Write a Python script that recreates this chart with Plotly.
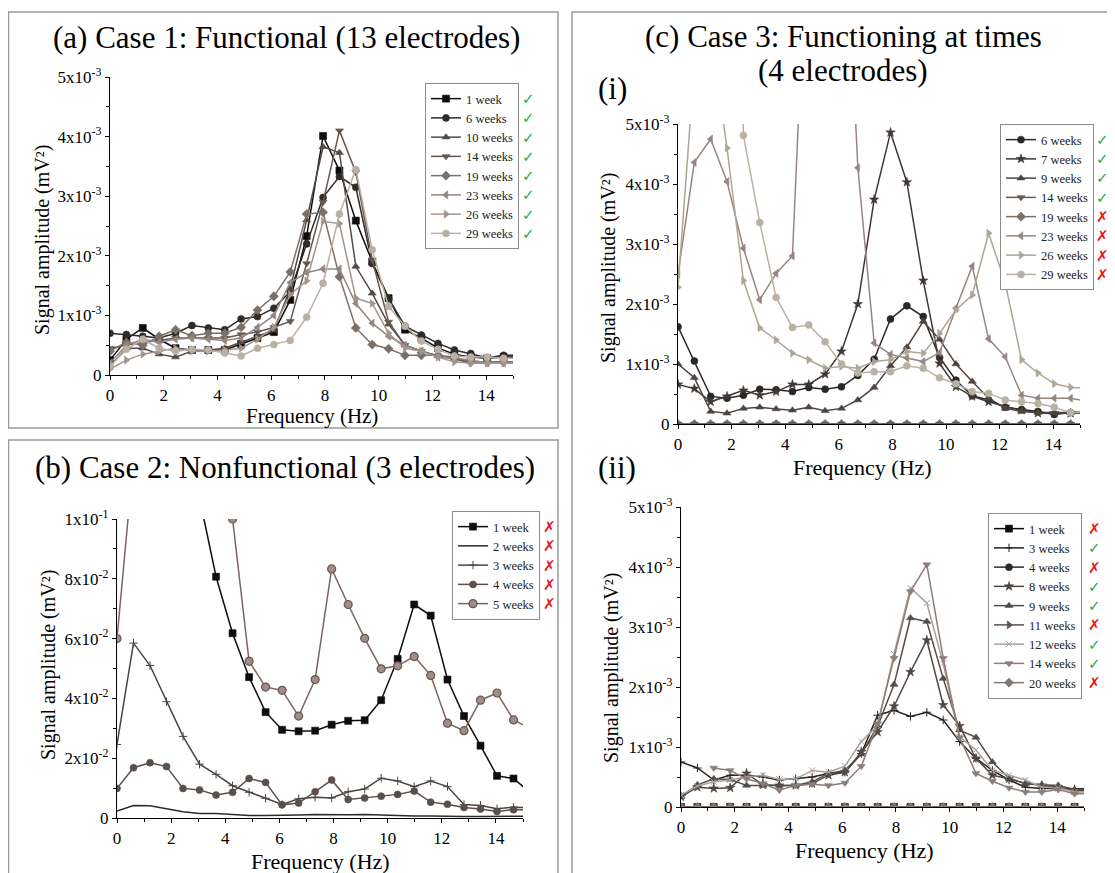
import plotly.graph_objects as go

W, H = 1115, 873
FONT = "Liberation Serif"
OFF = 8  # page body margin that offsets the figure in the browser

# Frequency bins (Hz)
freq = [0.00, 0.61, 1.22, 1.83, 2.44, 3.05, 3.66, 4.27, 4.88, 5.49, 6.10, 6.71, 7.32,
        7.93, 8.54, 9.15, 9.76, 10.37, 10.98, 11.59, 12.21, 12.82, 13.43, 14.04, 14.65, 15.26]

# ---------- (a) Case 1, values in 1e-3 mV^2 ----------
a_labels = ["1 week", "6 weeks", "10 weeks", "14 weeks", "19 weeks", "23 weeks", "26 weeks", "29 weeks"]
a_ok = [True] * 8
a_1 = [0.25, 0.6, 0.79, 0.6, 0.45, 0.42, 0.42, 0.42, 0.52, 0.62, 0.72, 1.26, 2.33, 4.01, 3.43, 2.59, 1.9, 1.29, 0.76, 0.62, 0.45, 0.35, 0.3, 0.28, 0.3, 0.3]
a_6 = [0.7, 0.68, 0.65, 0.62, 0.7, 0.83, 0.79, 0.76, 0.94, 0.98, 1.12, 1.4, 2.2, 2.98, 3.33, 3.15, 1.87, 1.28, 0.82, 0.67, 0.53, 0.42, 0.36, 0.29, 0.33, 0.33]
a_10 = [0.15, 0.45, 0.45, 0.35, 0.3, 0.4, 0.42, 0.45, 0.55, 0.65, 0.75, 1.45, 2.6, 3.83, 3.73, 1.82, 1.37, 0.85, 0.5, 0.4, 0.32, 0.28, 0.22, 0.22, 0.22, 0.22]
a_14 = [0.45, 0.5, 0.55, 0.58, 0.62, 0.62, 0.62, 0.62, 0.68, 0.72, 0.8, 0.9, 1.87, 2.9, 4.1, 3.4, 1.93, 0.89, 0.5, 0.4, 0.32, 0.27, 0.2, 0.2, 0.2, 0.2]
a_19 = [0.4, 0.55, 0.5, 0.65, 0.76, 0.66, 0.7, 0.7, 0.8, 1.09, 1.32, 1.73, 2.7, 2.73, 1.65, 0.79, 0.51, 0.44, 0.33, 0.33, 0.33, 0.3, 0.22, 0.22, 0.22, 0.22]
a_23 = [0.2, 0.5, 0.6, 0.55, 0.6, 0.62, 0.6, 0.58, 0.62, 0.8, 1.0, 1.55, 1.72, 1.78, 1.78, 1.2, 0.87, 0.65, 0.5, 0.4, 0.3, 0.28, 0.25, 0.2, 0.2, 0.2]
a_26 = [0.1, 0.25, 0.35, 0.4, 0.45, 0.4, 0.4, 0.42, 0.45, 0.6, 0.8, 1.35, 1.58, 2.58, 2.54, 1.29, 1.2, 0.7, 0.45, 0.4, 0.3, 0.22, 0.2, 0.2, 0.2, 0.2]
a_29 = [0.15, 0.43, 0.6, 0.45, 0.4, 0.43, 0.42, 0.37, 0.32, 0.45, 0.51, 0.58, 0.97, 1.54, 2.7, 3.45, 2.1, 1.15, 0.82, 0.57, 0.43, 0.32, 0.3, 0.3, 0.28, 0.28]
a_series = [a_1, a_6, a_10, a_14, a_19, a_23, a_26, a_29]

# ---------- (b) Case 2, values in 1e-2 mV^2 ----------
b_labels = ["1 week", "2 weeks", "3 weeks", "4 weeks", "5 weeks"]
b_ok = [False] * 5
b_1 = [40, 32, 25, 19, 14, 10.7, 8.07, 6.18, 4.71, 3.54, 2.95, 2.9, 2.92, 3.12, 3.25, 3.27, 3.94, 5.32, 7.14, 6.77, 4.63, 3.41, 2.42, 1.41, 1.32, 0.85]
b_2 = [0.23, 0.42, 0.41, 0.31, 0.21, 0.15, 0.15, 0.12, 0.08, 0.08, 0.08, 0.1, 0.12, 0.11, 0.11, 0.12, 0.1, 0.08, 0.07, 0.07, 0.05, 0.05, 0.05, 0.05, 0.06, 0.06]
b_3 = [2.46, 5.85, 5.1, 3.89, 2.73, 1.8, 1.46, 1.08, 0.86, 0.66, 0.45, 0.64, 0.69, 0.67, 0.88, 0.97, 1.33, 1.24, 1.05, 1.24, 1.05, 0.45, 0.42, 0.31, 0.36, 0.35]
b_4 = [0.99, 1.68, 1.85, 1.72, 0.99, 0.94, 0.77, 0.86, 1.32, 1.19, 0.44, 0.5, 0.88, 1.27, 0.62, 0.67, 0.73, 0.79, 0.9, 0.53, 0.46, 0.35, 0.3, 0.22, 0.28, 0.28]
b_5 = [6.0, 13.2, 18, 22, 25, 24, 20, 10.0, 5.24, 4.38, 4.27, 3.41, 4.63, 8.33, 7.14, 6.01, 4.99, 5.09, 5.4, 4.77, 3.17, 2.92, 3.94, 4.18, 3.28, 3.0]
b_series = [b_1, b_2, b_3, b_4, b_5]

# ---------- (c)(i) Case 3, values in 1e-3 mV^2 ----------
c_labels = ["6 weeks", "7 weeks", "9 weeks", "14 weeks", "19 weeks", "23 weeks", "26 weeks", "29 weeks"]
c_ok = [True, True, True, True, False, False, False, False]
c_6 = [1.62, 1.05, 0.46, 0.43, 0.48, 0.58, 0.57, 0.54, 0.61, 0.58, 0.62, 0.81, 1.08, 1.75, 1.97, 1.79, 1.11, 0.73, 0.47, 0.4, 0.28, 0.24, 0.21, 0.16, 0.19, 0.2]
c_7 = [0.66, 0.59, 0.37, 0.46, 0.56, 0.48, 0.54, 0.66, 0.66, 0.83, 1.21, 2.0, 3.74, 4.86, 4.03, 2.39, 1.01, 0.62, 0.46, 0.37, 0.29, 0.23, 0.18, 0.18, 0.18, 0.18]
c_9 = [1.0, 0.77, 0.21, 0.18, 0.26, 0.28, 0.25, 0.23, 0.28, 0.22, 0.26, 0.4, 0.61, 0.97, 1.28, 1.71, 1.41, 1.0, 0.71, 0.43, 0.26, 0.21, 0.19, 0.19, 0.19, 0.19]
c_14 = [0] * 26
c_19 = [0] * 26
c_23 = [2.5, 4.36, 4.75, 4.04, 2.93, 2.07, 2.51, 2.8, 9.0, 12.0, 10.0, 4.27, 1.35, 1.16, 1.1, 1.04, 1.19, 1.93, 2.63, 1.42, 1.12, 0.48, 0.43, 0.43, 0.43, 0.38]
c_26 = [2.28, 5.97, 6.5, 4.6, 2.39, 1.6, 1.4, 1.18, 1.07, 0.93, 0.96, 0.93, 1.04, 1.07, 1.21, 1.18, 1.51, 1.9, 2.15, 3.18, 2.35, 1.07, 0.85, 0.67, 0.61, 0.6]
c_29 = [12, 15, 18, 20, 4.81, 3.36, 2.11, 1.61, 1.65, 1.37, 1.0, 0.85, 0.87, 0.87, 0.97, 0.93, 0.77, 0.67, 0.54, 0.51, 0.4, 0.37, 0.34, 0.28, 0.19, 0.19]
c_series = [c_6, c_7, c_9, c_14, c_19, c_23, c_26, c_29]

# ---------- (c)(ii) Case 3, values in 1e-3 mV^2 ----------
d_labels = ["1 week", "3 weeks", "4 weeks", "8 weeks", "9 weeks", "11 weeks", "12 weeks", "14 weeks", "20 weeks"]
d_ok = [False, True, False, True, True, False, True, True, False]
d_1 = [0] * 26
d_3 = [0.75, 0.65, 0.45, 0.53, 0.53, 0.5, 0.45, 0.47, 0.5, 0.56, 0.58, 0.89, 1.53, 1.61, 1.51, 1.58, 1.45, 1.09, 0.81, 0.61, 0.45, 0.33, 0.31, 0.31, 0.3, 0.3]
d_4 = [0] * 26
d_8 = [0.17, 0.33, 0.31, 0.32, 0.56, 0.37, 0.36, 0.36, 0.39, 0.53, 0.58, 0.92, 1.25, 1.68, 2.25, 2.78, 1.7, 1.35, 0.81, 0.53, 0.47, 0.39, 0.36, 0.33, 0.27, 0.27]
d_9 = [0.17, 0.37, 0.47, 0.46, 0.36, 0.36, 0.36, 0.36, 0.42, 0.56, 0.61, 0.88, 1.35, 2.04, 3.15, 3.09, 2.14, 1.28, 1.16, 0.75, 0.48, 0.39, 0.37, 0.36, 0.29, 0.29]
d_11 = [0] * 26
d_12 = [0.2, 0.35, 0.42, 0.45, 0.5, 0.53, 0.46, 0.47, 0.61, 0.58, 0.68, 1.09, 1.36, 2.55, 3.65, 3.4, 2.39, 1.17, 0.95, 0.61, 0.53, 0.45, 0.33, 0.32, 0.25, 0.25]
d_14 = [None, None, 0.65, 0.61, 0.47, 0.39, 0.28, 0.36, 0.38, 0.36, 0.4, 0.68, 1.39, 2.48, 3.59, 4.04, 2.48, 1.16, 0.56, 0.43, 0.32, 0.25, 0.25, 0.29, 0.22, 0.22]
d_20 = [0] * 26
d_series = [d_1, d_3, d_4, d_8, d_9, d_11, d_12, d_14, d_20]

# tick labels
x_ticks = [0, 2, 4, 6, 8, 10, 12, 14]
y3_vals = [0, 1, 2, 3, 4, 5]
y3_text = ["0", "1x10<sup>-3</sup>", "2x10<sup>-3</sup>", "3x10<sup>-3</sup>", "4x10<sup>-3</sup>", "5x10<sup>-3</sup>"]
y2_vals = [0, 2, 4, 6, 8, 10]
y2_text = ["0", "2x10<sup>-2</sup>", "4x10<sup>-2</sup>", "6x10<sup>-2</sup>", "8x10<sup>-2</sup>", "1x10<sup>-1</sup>"]

# ---------- styles ----------
a_style = [("#0d0d0d", "square"), ("#2e2b29", "circle"), ("#544a45", "triangle-up"),
           ("#665751", "triangle-down"), ("#7b7068", "diamond"), ("#958681", "triangle-left"),
           ("#a2958f", "triangle-right"), ("#b8b1a3", "circle")]
b_style = [("#0d0d0d", "square"), ("#2e2b29", None), ("#4a4541", "cross-thin"),
           ("#5a4f4a", "circle"), ("#7a6660", "circle")]
c_style = [("#2a2826", "circle"), ("#3f3834", "star"), ("#4e4540", "triangle-up"),
           ("#6a5a54", "triangle-down"), ("#7b7169", "diamond"), ("#968681", "triangle-left"),
           ("#ada596", "triangle-right"), ("#b9b2a4", "circle")]
d_style = [("#0d0d0d", "square"), ("#262422", "cross-thin"), ("#2e2b29", "circle"),
           ("#4f4641", "star"), ("#554c47", "triangle-up"), ("#5f534e", "triangle-right"),
           ("#aaa09b", "x-thin"), ("#8d7d78", "triangle-down"), ("#827870", "diamond")]


def px(x):
    return (x - OFF) / W


def py(y):
    return 1 - (y - OFF) / H


LEG_FS = 12.5
ROW = LEG_FS * 1.3 + 3

fig = go.Figure()

panels = [
    # key, series, labels, styles, ok, legend name, (x0,x1,ytop,ybottom), (legend right, legend top), check x
    ("1", a_series, a_labels, a_style, a_ok, "legend", (110, 513, 77, 375), (519, 83), 528),
    ("2", b_series, b_labels, b_style, b_ok, "legend2", (117, 523, 519, 818), (540, 511), 549),
    ("3", c_series, c_labels, c_style, c_ok, "legend3", (678, 1080, 124, 424), (1094, 124), 1102),
    ("4", d_series, d_labels, d_style, d_ok, "legend4", (681, 1084, 507, 807), (1082, 513), 1094),
]

draw_order = {"3": [0, 1, 2, 4, 3, 5, 6, 7]}

annotations = []
for key, series, labels, styles, oks, lg, box, lpos, chkx in panels:
    xa = "x" if key == "1" else "x" + key
    ya = "y" if key == "1" else "y" + key
    order = draw_order.get(key, list(range(len(series))))
    for i in order:
        col, sym = styles[i]
        mk = dict(size=7, color=col, line=dict(width=0.6, color=col))
        if sym is None:
            mode = "lines"
        else:
            mode = "lines+markers"
            mk["symbol"] = sym
            if sym in ("cross-thin", "x-thin"):
                mk = dict(symbol=sym, size=6, color=col, line=dict(width=1, color=col))
            if key == "2" and i == 4:
                mk = dict(symbol="circle", size=8, color="#a08e88", line=dict(width=1.2, color="#6a5550"))
        fig.add_trace(go.Scatter(
            x=freq, y=series[i], mode=mode, name=labels[i],
            line=dict(color=col, width=1.5), marker=mk,
            xaxis=xa, yaxis=ya, legend=lg, legendrank=100 + i,
            connectgaps=False,
        ))
    # checkmarks next to legend rows
    for i, ok in enumerate(oks):
        annotations.append(dict(
            x=px(chkx), y=py(lpos[1] + 16 + ROW * i), xref="paper", yref="paper",
            text="✓" if ok else "✗", showarrow=False,
            font=dict(family="DejaVu Sans", size=15, color="#1cae4a" if ok else "#e5141b"),
            xanchor="center", yanchor="middle"))

axis_common = dict(
    showline=True, linecolor="black", linewidth=1.2, ticks="outside", ticklen=4,
    tickwidth=1.2, tickcolor="black", showgrid=False, zeroline=False, automargin=False,
    tickfont=dict(family=FONT, size=17, color="black"), mirror=False,
)

layout_axes = {}
for key, series, labels, styles, oks, lg, box, lpos, chkx in panels:
    x0, x1, yt, yb = box
    xname = "xaxis" if key == "1" else "xaxis" + key
    yname = "yaxis" if key == "1" else "yaxis" + key
    anchor_x = "y" if key == "1" else "y" + key
    anchor_y = "x" if key == "1" else "x" + key
    layout_axes[xname] = dict(
        axis_common, domain=[px(x0), px(x1)], range=[0, 15], anchor=anchor_x,
        tickmode="array", tickvals=x_ticks,
        minor=dict(dtick=1, ticks="outside", ticklen=2.5, tickcolor="black", tickwidth=1))
    if key == "2":
        yv, yt_txt, minor_d = y2_vals, y2_text, 1
        yr = [0, 10]
    else:
        yv, yt_txt, minor_d = y3_vals, y3_text, 0.5
        yr = [0, 5]
    layout_axes[yname] = dict(
        axis_common, domain=[py(yb), py(yt)], range=yr, anchor=anchor_y,
        tickmode="array", tickvals=yv, ticktext=yt_txt,
        minor=dict(dtick=minor_d, ticks="outside", ticklen=2.5, tickcolor="black", tickwidth=1))

legend_common = dict(
    bgcolor="white", bordercolor="#8c8c8c", borderwidth=1,
    font=dict(family=FONT, size=LEG_FS, color="#222"), itemwidth=30,
    xanchor="right", yanchor="top", tracegroupgap=0,
)
legends = {}
for key, series, labels, styles, oks, lg, box, lpos, chkx in panels:
    legends[lg] = dict(legend_common, x=px(lpos[0]), y=py(lpos[1]))

# titles and axis titles
texts = [
    ("(a) Case 1: Functional (13 electrodes)", 286, 38, 31, 0),
    ("(b) Case 2: Nonfunctional (3 electrodes)", 285, 467, 31, 0),
    ("(c) Case 3: Functioning at times", 843, 37, 31, 0),
    ("(4 electrodes)", 843, 71, 31, 0),
    ("(i)", 612, 88, 31, 0),
    ("(ii)", 617, 467, 31, 0),
    ("Frequency (Hz)", 312, 416, 21, 0),
    ("Frequency (Hz)", 320, 861, 22, 0),
    ("Frequency (Hz)", 862, 467, 22, 0),
    ("Frequency (Hz)", 864, 850, 22, 0),
    ("Signal amplitude (mV²)", 43, 240, 20, -90),
    ("Signal amplitude (mV²)", 48, 665, 20, -90),
    ("Signal amplitude (mV²)", 608, 268, 20, -90),
    ("Signal amplitude (mV²)", 611, 668, 20, -90),
]
for t, x, y, s, ang in texts:
    annotations.append(dict(
        x=px(x), y=py(y), xref="paper", yref="paper", text=t, showarrow=False,
        font=dict(family=FONT, size=s, color="black"), textangle=ang,
        xanchor="center", yanchor="middle"))

shapes = [
    dict(type="rect", xref="paper", yref="paper", x0=px(8.5), x1=px(558), y0=py(12), y1=py(428),
         line=dict(color="#9a9a9a", width=1.5)),
    dict(type="rect", xref="paper", yref="paper", x0=px(8.5), x1=px(558), y0=py(440), y1=py(900),
         line=dict(color="#9a9a9a", width=1.5)),
    dict(type="rect", xref="paper", yref="paper", x0=px(572), x1=px(1140), y0=py(12), y1=py(900),
         line=dict(color="#9a9a9a", width=1.5)),
]

fig.update_layout(
    width=W, height=H, margin=dict(l=0, r=0, t=0, b=0, autoexpand=False),
    paper_bgcolor="white", plot_bgcolor="white",
    annotations=annotations, shapes=shapes, showlegend=True,
    **layout_axes, **legends,
)

fig.write_html("out.html")
